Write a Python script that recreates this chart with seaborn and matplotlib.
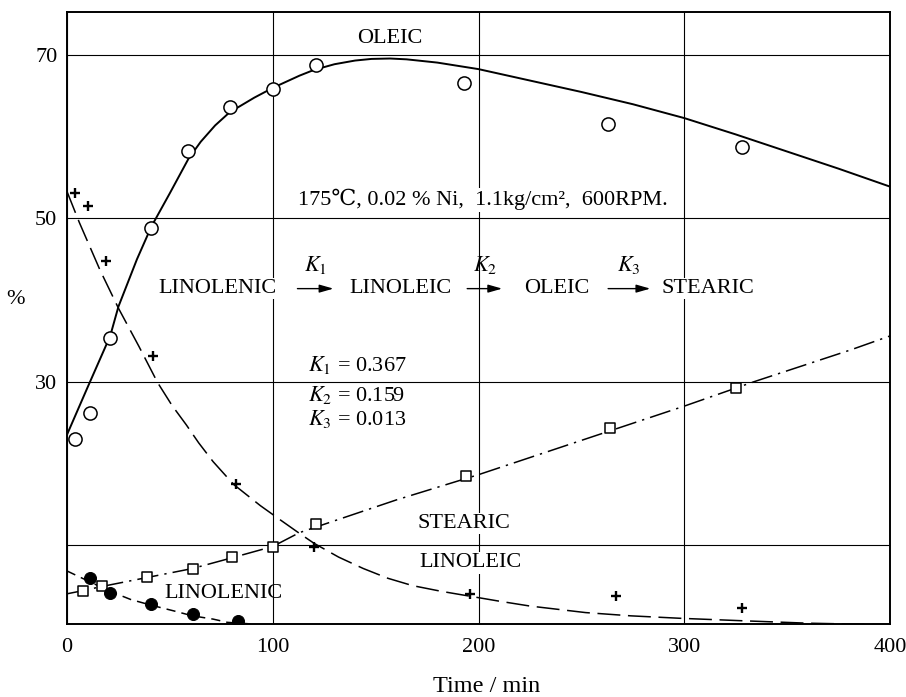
import matplotlib
matplotlib.use("Agg")
import matplotlib.pyplot as plt
import seaborn as sns

# measured points (time in min, composition in %)
oleic_t = [4, 11, 21, 41, 59, 79, 100, 121, 193, 263, 328]
oleic_pct = [23.0, 26.1, 35.3, 48.8, 58.3, 63.6, 65.9, 68.8, 66.6, 61.6, 58.7]

linoleic_t = [4, 10, 19, 42, 82, 120, 196, 267, 328]
linoleic_pct = [53.1, 51.5, 44.8, 33.2, 17.4, 9.7, 4.0, 3.7, 2.2]

stearic_t = [8, 17, 39, 61, 80, 100, 121, 194, 264, 325]
stearic_pct = [4.4, 4.9, 6.0, 7.1, 8.5, 9.7, 12.6, 18.4, 24.3, 29.2]

linolenic_t = [11, 21, 41, 61, 83]
linolenic_pct = [5.9, 4.1, 2.8, 1.5, 0.7]

# calculated curves
oleic_fit_t = [0, 10, 21, 25, 34, 41, 50, 59, 65, 72, 79, 91, 100, 113, 120, 130, 140,
               148, 157, 165, 180, 200, 225, 250, 275, 300, 325, 350, 375, 400]
oleic_fit_pct = [23.5, 29.3, 35.6, 39.2, 45.0, 49.0, 53.1, 57.3, 59.4, 61.4, 63.0,
                 64.8, 66.0, 67.5, 68.2, 68.9, 69.35, 69.55, 69.6, 69.5, 69.1, 68.3,
                 66.9, 65.5, 64.0, 62.3, 60.3, 58.2, 56.1, 53.9]

linoleic_fit_t = [0, 6, 16, 25, 35, 44, 51, 58, 64, 71, 81, 94, 104, 113, 120, 132,
                  144, 156, 168, 182, 196, 210, 225, 252, 274, 298, 328, 360, 400]
linoleic_fit_pct = [53.3, 49.5, 43.7, 39.0, 34.3, 29.9, 27.1, 24.7, 22.5, 20.2, 17.4,
                    14.8, 13.0, 11.4, 10.2, 8.5, 7.1, 5.9, 5.0, 4.3, 3.7, 3.1, 2.5,
                    1.7, 1.3, 1.0, 0.7, 0.4, 0.2]

stearic_fit_t = [0, 8, 17, 39, 61, 80, 100, 113, 160, 200, 250, 300, 334, 381, 400]
stearic_fit_pct = [4.0, 4.4, 4.9, 6.0, 7.1, 8.4, 9.8, 11.5, 15.5, 18.6, 22.8, 27.0,
                   30.0, 33.9, 35.6]

linolenic_fit_t = [0, 10, 21, 31, 41, 52, 61, 71, 78, 90]
linolenic_fit_pct = [6.8, 5.6, 4.3, 3.3, 2.6, 1.9, 1.3, 0.9, 0.5, 0.3]

x_ticks = [0, 100, 200, 300, 400]
y_ticks = [10, 30, 50, 70]
y_tick_labels = ["", "30", "50", "70"]

sns.set_theme(style="white")
plt.rcParams["font.family"] = ["Liberation Serif", "DejaVu Serif"]
plt.rcParams["mathtext.fontset"] = "stix"
plt.rcParams["text.color"] = "black"
plt.rcParams["axes.labelcolor"] = "black"
plt.rcParams["xtick.color"] = "black"
plt.rcParams["ytick.color"] = "black"

fig = plt.figure(figsize=(9.06, 6.97), dpi=100)
ax = fig.add_axes([67 / 906, 73 / 697, 823 / 906, 612 / 697])

# curves
sns.lineplot(x=oleic_fit_t, y=oleic_fit_pct, color="black", lw=1.4, ax=ax, zorder=2)
sns.lineplot(x=linoleic_fit_t, y=linoleic_fit_pct, color="black", lw=1.1,
             linestyle=(0, (15, 5)), ax=ax, zorder=2)
sns.lineplot(x=stearic_fit_t, y=stearic_fit_pct, color="black", lw=1.1,
             linestyle=(0, (14, 4, 1.5, 4)), ax=ax, zorder=2)
sns.lineplot(x=linolenic_fit_t, y=linolenic_fit_pct, color="black", lw=1.1,
             linestyle=(0, (6, 4)), ax=ax, zorder=2)

# points
sns.scatterplot(x=oleic_t, y=oleic_pct, marker="o", s=90, color="white",
                edgecolor="black", linewidth=1.1, ax=ax, zorder=3)
sns.scatterplot(x=linoleic_t, y=linoleic_pct, marker="+", s=45, color="black",
                linewidth=1.7, ax=ax, zorder=3)
sns.scatterplot(x=stearic_t, y=stearic_pct, marker="s", s=55, color="white",
                edgecolor="black", linewidth=1.1, ax=ax, zorder=3)
sns.scatterplot(x=linolenic_t, y=linolenic_pct, marker="o", s=75, color="black",
                edgecolor="black", ax=ax, zorder=3)

ax.set_xlim(0, 400)
ax.set_ylim(0.3, 75.3)
ax.set_xticks(x_ticks)
ax.set_yticks(y_ticks)
ax.set_yticklabels(y_tick_labels)
ax.tick_params(length=0, labelsize=16, colors="black")
ax.tick_params(axis="x", pad=10)
ax.tick_params(axis="y", pad=7)
ax.set_axisbelow(True)
ax.grid(True, color="black", lw=0.8)
for sp in ax.spines.values():
    sp.set_color("black")
    sp.set_linewidth(1.4)

ax.set_xlabel("Time / min", fontsize=17.5)
ax.set_ylabel("%", fontsize=16, rotation=0)
ax.xaxis.set_label_coords(0.51, -0.085)
ax.yaxis.set_label_coords(-0.063, 0.515)

box = dict(facecolor="white", edgecolor="none", pad=1)
fs = 16
ax.text(157, 72.1, "OLEIC", ha="center", va="center", fontsize=fs, zorder=1)
ax.text(202, 52.3, "175\u2103, 0.02 % Ni,  1.1kg/cm\u00b2,  600RPM.",
        ha="center", va="center", fontsize=fs, bbox=box, zorder=1)

# reaction scheme
row_y = 41.4
for word, xc in [("LINOLENIC", 73), ("LINOLEIC", 162), ("OLEIC", 238), ("STEARIC", 311.5)]:
    ax.text(xc, row_y, word, ha="center", va="center", fontsize=fs, bbox=box, zorder=1)
for x0, x1, k in [(112, 129.5, r"$K_1$"), (194.5, 211.5, r"$K_2$"), (263, 283.5, r"$K_3$")]:
    ax.annotate("", xy=(x1, row_y), xytext=(x0, row_y),
                arrowprops=dict(arrowstyle="-|>,head_length=0.7,head_width=0.2",
                                color="black", lw=1.0, shrinkA=0, shrinkB=0), zorder=1)
    ax.text((x0 + x1) / 2, 44.3, k, ha="center", va="center", fontsize=fs, zorder=1)

ax.text(117, 32.1, r"$K_1$ = 0.367", ha="left", va="center", fontsize=fs, zorder=1)
ax.text(117, 28.4, r"$K_2$ = 0.159", ha="left", va="center", fontsize=fs, zorder=1)
ax.text(117, 25.4, r"$K_3$ = 0.013", ha="left", va="center", fontsize=fs, zorder=1)

ax.text(193, 12.6, "STEARIC", ha="center", va="center", fontsize=fs, bbox=box, zorder=1)
ax.text(196, 7.8, "LINOLEIC", ha="center", va="center", fontsize=fs, bbox=box, zorder=1)
ax.text(76, 4.0, "LINOLENIC", ha="center", va="center", fontsize=fs, zorder=1)

fig.savefig("out.png", dpi=100)
